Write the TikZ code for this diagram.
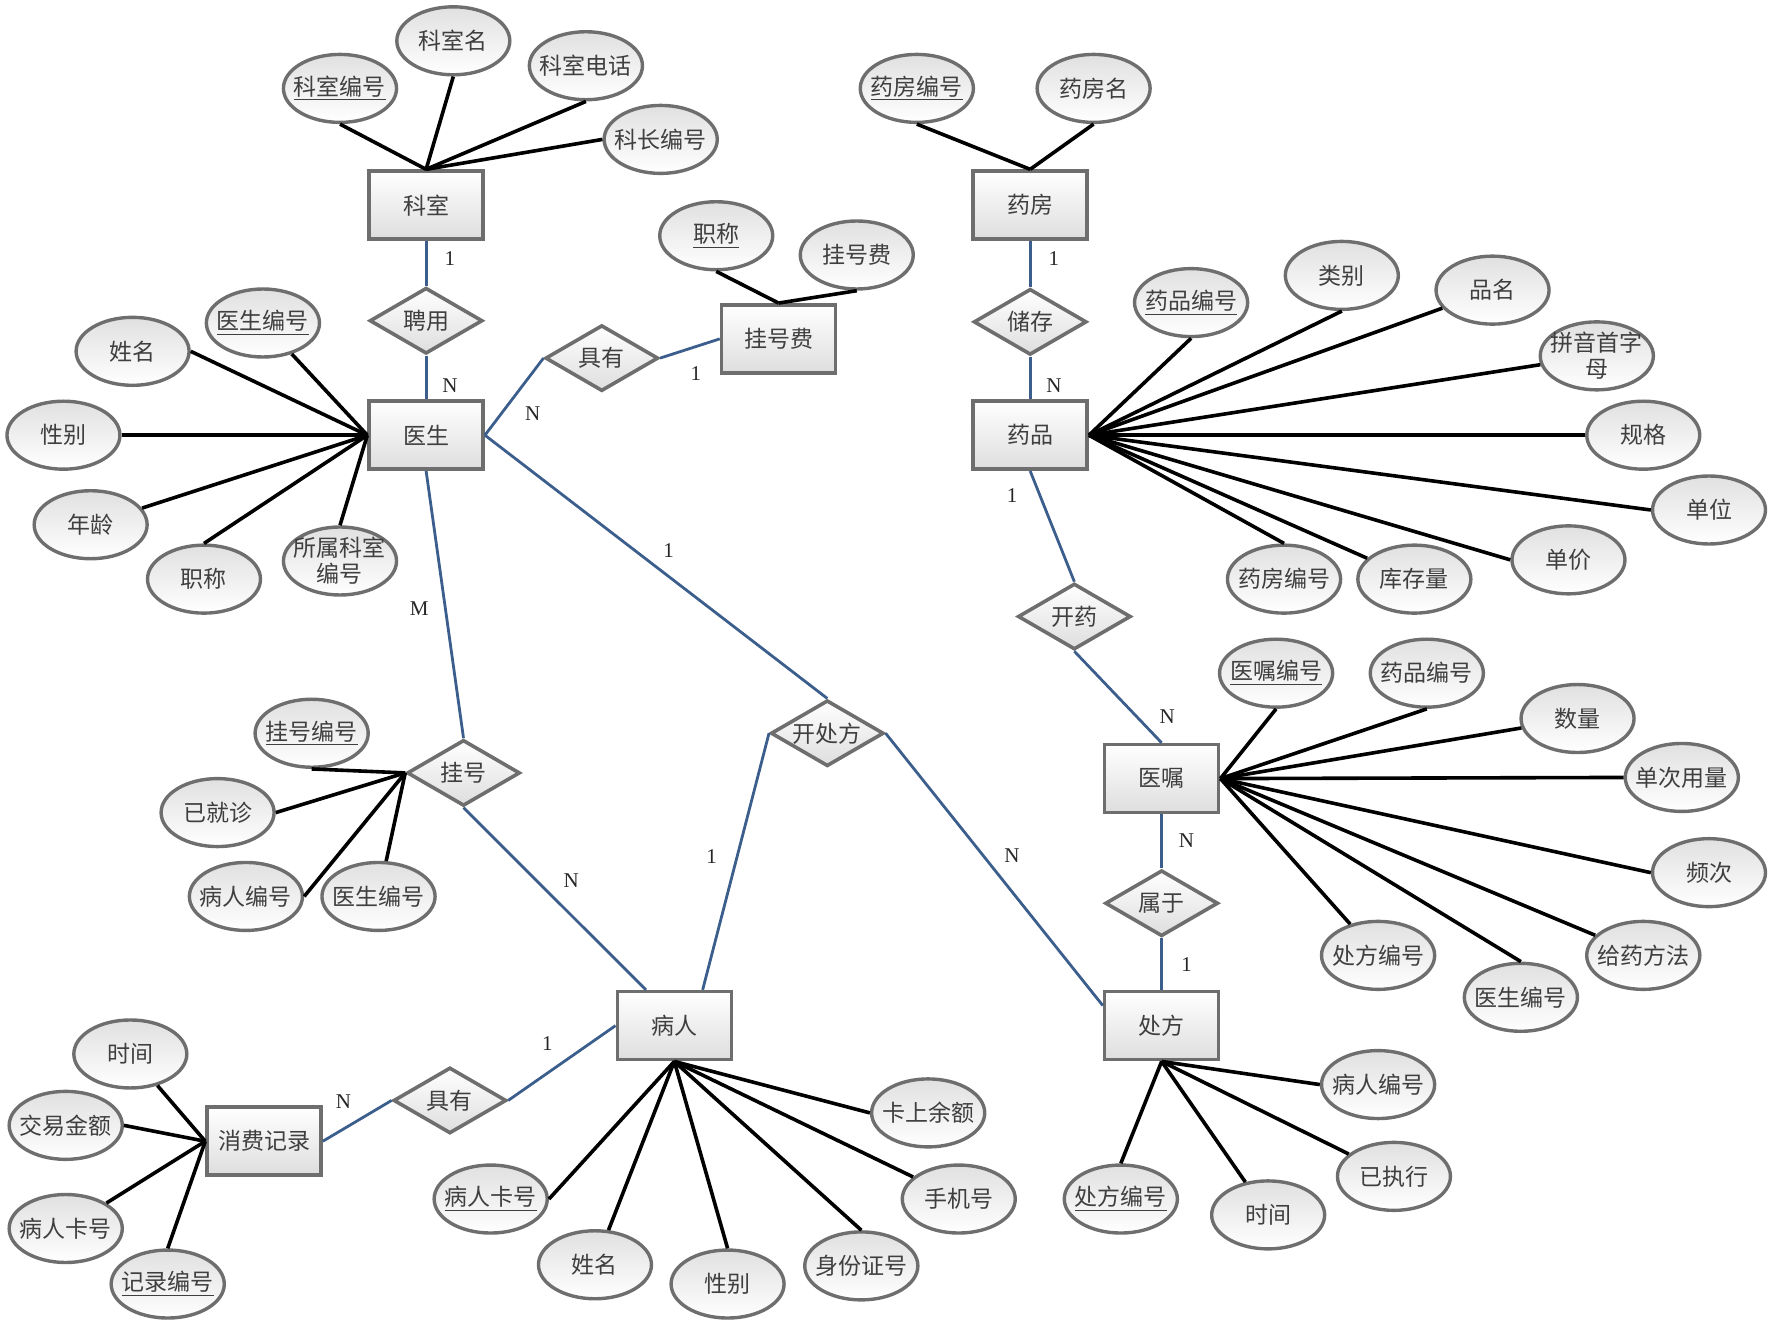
\documentclass[tikz,border=0pt]{standalone}
\usepackage{fontspec}
\setmainfont{Noto Sans CJK SC}
\newfontfamily\lblfont{Liberation Serif}
\usetikzlibrary{shapes.geometric,calc}
\definecolor{txt}{HTML}{3F3F3F}
\definecolor{bdr}{HTML}{6E6E6E}
\definecolor{relblue}{HTML}{3B5E8C}
\tikzset{
  cjkfont/.style={font=\fontsize{11.5}{13}\selectfont},
  ent/.style={draw=bdr, line width=1.8pt, rectangle, minimum width=57pt, minimum height=34pt,
    inner sep=0pt, top color=white, bottom color=black!13, text=txt, cjkfont},
  attr/.style={draw=bdr, line width=1.7pt, ellipse, minimum width=56.5pt, minimum height=34pt,
    inner xsep=-3pt, inner ysep=0pt, top color=black!12, bottom color=white, text=txt, cjkfont, align=center},
  relshape/.style={draw=bdr, line width=1.8pt, diamond, minimum width=56.5pt, minimum height=33pt,
    inner sep=0pt, shape aspect=1.7, top color=white, bottom color=black!13, text=txt, cjkfont},
  al/.style={line width=1.8pt, black},
  rl/.style={line width=1.4pt, relblue},
  card/.style={font=\lblfont\fontsize{10.5}{12}\selectfont, text=black!85, inner sep=0pt}
}
\begin{document}
\begin{tikzpicture}[x=0.5667pt, y=-0.5667pt]
\useasboundingbox (0,0) rectangle (1568,1172);
% entities
\node[ent] (ks) at (376,181) {科室};
\node[ent] (ys) at (376,384) {医生};
\node[ent] (ghf) at (687,299) {挂号费};
\node[ent] (yf) at (909,181) {药房};
\node[ent] (yp) at (909,384) {药品};
\node[ent] (yz) at (1025,687) {医嘱};
\node[ent] (cf) at (1025,905) {处方};
\node[ent] (br) at (595,905) {病人};
\node[ent] (xf) at (233,1007) {消费记录};
% relationships
\node[relshape] (py) at (376,283) {聘用};
\node[relshape] (jy1) at (531,316) {具有};
\node[relshape] (cc) at (909,284) {储存};
\node[relshape] (ky) at (948,544) {开药};
\node[relshape] (gh) at (409,682) {挂号};
\node[relshape] (kcf) at (730,647) {开处方};
\node[relshape] (sy) at (1025,797) {属于};
\node[relshape] (jy2) at (397,971) {具有};
% attributes
\node[attr] (ks1) at (300,78) {\underline{科室编号}};
\node[attr] (ks2) at (400,36) {科室名};
\node[attr] (ks3) at (517,58) {科室电话};
\node[attr] (ks4) at (583,123) {科长编号};
\node[attr] (gf1) at (632,208) {\underline{职称}};
\node[attr] (gf2) at (756,225) {挂号费};
\node[attr] (ys1) at (232,285) {\underline{医生编号}};
\node[attr] (ys2) at (117,310) {姓名};
\node[attr] (ys3) at (56,384) {性别};
\node[attr] (ys4) at (80,463) {年龄};
\node[attr] (ys5) at (180,511) {职称};
\node[attr] (ys6) at (300,495) {所属科室\\编号};
\node[attr] (yf1) at (809,78) {\underline{药房编号}};
\node[attr] (yf2) at (965,78) {药房名};
\node[attr] (yp1) at (1051,267) {\underline{药品编号}};
\node[attr] (yp2) at (1184,243) {类别};
\node[attr] (yp3) at (1317,256) {品名};
\node[attr] (yp4) at (1409,314) {拼音首字\\母};
\node[attr] (yp5) at (1450,384) {规格};
\node[attr] (yp6) at (1508,450) {单位};
\node[attr] (yp7) at (1384,494) {单价};
\node[attr] (yp8) at (1248,511) {库存量};
\node[attr] (yp9) at (1133,511) {药房编号};
\node[attr] (yz1) at (1126,594) {\underline{医嘱编号}};
\node[attr] (yz2) at (1259,594) {药品编号};
\node[attr] (yz3) at (1392,634) {数量};
\node[attr] (yz4) at (1484,686) {单次用量};
\node[attr] (yz5) at (1508,770) {频次};
\node[attr] (yz6) at (1450,843) {给药方法};
\node[attr] (yz7) at (1342,880) {医生编号};
\node[attr] (yz8) at (1216,843) {处方编号};
\node[attr] (cf1) at (1216,957) {病人编号};
\node[attr] (cf2) at (1230,1038) {已执行};
\node[attr] (cf3) at (1119,1072) {时间};
\node[attr] (cf4) at (989,1058) {\underline{处方编号}};
\node[attr] (br1) at (819,982) {卡上余额};
\node[attr] (br2) at (846,1058) {手机号};
\node[attr] (br3) at (760,1117) {身份证号};
\node[attr] (br4) at (642,1133) {性别};
\node[attr] (br5) at (525,1116) {姓名};
\node[attr] (br6) at (433,1058) {\underline{病人卡号}};
\node[attr] (xf1) at (115,930) {时间};
\node[attr] (xf2) at (58,993) {交易金额};
\node[attr] (xf3) at (58,1084) {病人卡号};
\node[attr] (xf4) at (148,1133) {\underline{记录编号}};
\node[attr] (gh1) at (275,647) {\underline{挂号编号}};
\node[attr] (gh2) at (192,717) {已就诊};
\node[attr] (gh3) at (217,791) {病人编号};
\node[attr] (gh4) at (334,791) {医生编号};
% attribute connectors
\foreach \a in {ks1.south,ks2.south,ks3.south,ks4.west} \draw[al] (\a) -- (ks.north);
\foreach \a in {gf1.south,gf2.south} \draw[al] (\a) -- (ghf.north);
\foreach \a in {ys1,ys2.east,ys3.east,ys4,ys5.north,ys6.north} \draw[al] (\a) -- (ys.west);
\foreach \a in {yf1.south,yf2.south} \draw[al] (\a) -- (yf.north);
\foreach \a in {yp1.south,yp2.south,yp3,yp4,yp5.west,yp6.west,yp7.west,yp8,yp9.north} \draw[al] (\a) -- (yp.east);
\foreach \a in {yz1.south,yz2.south,yz3,yz4.west,yz5.west,yz6,yz7.north,yz8} \draw[al] (\a) -- (yz.east);
\foreach \a in {cf1.west,cf2,cf3,cf4.north} \draw[al] (\a) -- (cf.south);
\foreach \a in {br1.west,br2,br3.north,br4.north,br5,br6.east} \draw[al] (\a) -- (br.south);
\foreach \a in {xf1,xf2.east,xf3,xf4.north} \draw[al] (\a) -- (xf.west);
\foreach \a in {gh1.south,gh2.east,gh3.east,gh4} \draw[al] (\a) -- (gh.west);
% relationship connectors
\draw[rl] (ks) -- (py);
\draw[rl] (py) -- (ys);
\draw[rl] (ys.east) -- (jy1.west);
\draw[rl] (jy1.east) -- (ghf.west);
\draw[rl] (yf) -- (cc);
\draw[rl] (cc) -- (yp);
\draw[rl] (yp.south) -- (ky.north);
\draw[rl] (ky.south) -- (yz.north);
\draw[rl] (yz) -- (sy);
\draw[rl] (sy) -- (cf);
\draw[rl] (ys.east) -- (kcf.north);
\draw[rl] (kcf.east) -- ($(cf.north west)!0.22!(cf.south west)$);
\draw[rl] (kcf.west) -- ($(br.north)+(25,0)$);
\draw[rl] (ys.south) -- (gh.north);
\draw[rl] (gh.south) -- ($(br.north)+(-25,0)$);
\draw[rl] (br.west) -- (jy2.east);
\draw[rl] (jy2.west) -- (xf.east);
% cardinalities
\node[card] (c1) at (397,228) {1};
\node[card] (c2) at (397,340) {N};
\node[card] (c3) at (470,365) {N};
\node[card] (c4) at (614,330) {1};
\node[card] (c5) at (930,228) {1};
\node[card] (c6) at (930,340) {N};
\node[card] (c7) at (893,437) {1};
\node[card] (c8) at (1030,632) {N};
\node[card] (c9) at (1047,742) {N};
\node[card] (c10) at (1047,851) {1};
\node[card] (c11) at (590,486) {1};
\node[card] (c12) at (893,755) {N};
\node[card] (c13) at (628,756) {1};
\node[card] (c14) at (370,537) {M};
\node[card] (c15) at (504,777) {N};
\node[card] (c16) at (483,921) {1};
\node[card] (c17) at (303,972) {N};
\end{tikzpicture}
\end{document}
